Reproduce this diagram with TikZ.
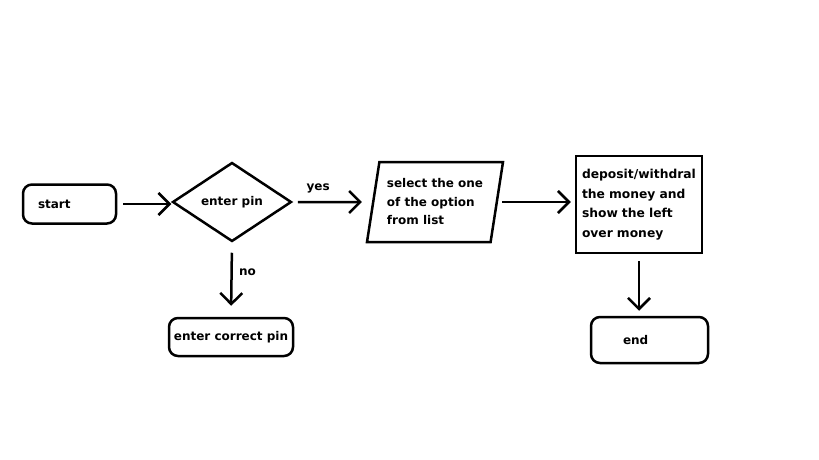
\documentclass[tikz,border=0pt]{standalone}
\usepackage{fontspec}
\setmainfont{DejaVu Sans}
\usetikzlibrary{shapes.geometric,arrows.meta}

\begin{document}
\begin{tikzpicture}[x=1pt,y=-1pt,line width=2.5pt,
  term/.style={rectangle, draw, rounded corners=9pt, font=\bfseries\fontsize{12}{14}\selectfont},
  flow/.style={-{Straight Barb[length=11pt,width=22pt]}},
  txt/.style={font=\bfseries\fontsize{12}{18.5}\selectfont}]
\useasboundingbox[fill=white] (0,0) rectangle (819,460);
\node[term, minimum width=93pt, minimum height=39pt, inner xsep=15pt, text width=63pt, align=left] (start) at (69.5,204) {start};
\node[diamond, draw, inner sep=0pt, minimum width=119pt, minimum height=79pt, txt] (pin) at (232,202) {enter pin};
\node[trapezium, draw, trapezium left angle=75, trapezium right angle=105, trapezium stretches body, minimum width=136pt, minimum height=80pt, inner sep=0pt, align=left, txt] (pick) at (435,202) {select the one\\of the option\\from list};
\node[rectangle, draw, minimum width=126pt, minimum height=97pt, inner xsep=6pt, text width=114pt, align=left, font=\bfseries\fontsize{12.3}{19.5}\selectfont] (money) at (639,204.5) {deposit/withdral\\the money and\\show the left\\over money};
\node[term, minimum width=117pt, minimum height=46pt, inner xsep=32pt, text width=53pt, align=left] (end) at (649.5,340) {end};
\node[term, minimum width=124pt, minimum height=38pt, inner sep=2pt] (retry) at (231,337) {enter correct pin};
\draw[flow, shorten <=6pt] (start.east) -- (start.east -| pin.west);
\draw[flow, shorten <=5pt, shorten >=10pt] (pin.east) -- node[pos=0.32, above=4pt, txt] (yes) {yes} (pick.west);
\draw[flow, shorten <=4pt, shorten >=4pt] (pick.east) -- (pick.east -| money.west);
\draw[flow, shorten <=7pt, shorten >=5pt] (money.south) -- (money.south |- end.north);
\draw[flow, shorten <=10pt, shorten >=11pt] (pin.south) -- node[pos=0.4, right=3pt, txt] (no) {no} (retry.north);
\end{tikzpicture}
\end{document}
